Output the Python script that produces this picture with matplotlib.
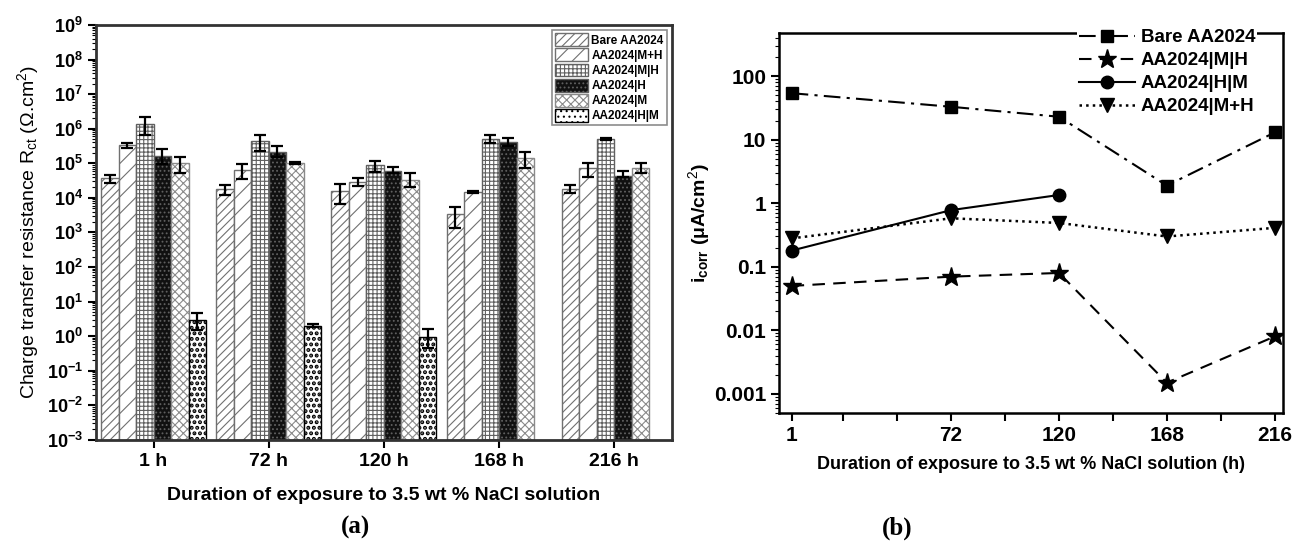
import matplotlib
matplotlib.use('Agg')
import matplotlib.pyplot as plt
from matplotlib.ticker import LogLocator, FixedLocator, NullFormatter
import numpy as np

plt.rcParams['font.family'] = ['Liberation Sans', 'DejaVu Sans']
plt.rcParams['mathtext.fontset'] = 'custom'
plt.rcParams['mathtext.rm'] = 'Liberation Sans'
plt.rcParams['mathtext.bf'] = 'Liberation Sans:bold'
plt.rcParams['mathtext.it'] = 'Liberation Sans:italic'
plt.rcParams['hatch.linewidth'] = 0.8

# ---- data, panel (a): charge transfer resistance (ohm.cm2)
groups = ['1 h', '72 h', '120 h', '168 h', '216 h']
coatings = ['Bare AA2024', 'AA2024|M+H', 'AA2024|M|H', 'AA2024|H', 'AA2024|M', 'AA2024|H|M']

rct_bare = [3.8e4, 1.8e4, 1.6e4, 3.4e3, 1.8e4]
rct_mph = [3.4e5, 6.4e4, 2.9e4, 1.5e4, 7.4e4]
rct_mh = [1.4e6, 4.4e5, 8.9e4, 5.0e5, 5.0e5]
rct_h = [1.6e5, 2.1e5, 6.0e4, 4.2e5, 4.4e4]
rct_m = [1.0e5, 1.0e5, 3.3e4, 1.45e5, 7.4e4]
rct_hm = [3.0, 2.0, 0.95, np.nan, np.nan]

# error bar limits (upper / lower)
hi_bare = [4.6e4, 2.4e4, 2.5e4, 5.5e3, 2.4e4]
lo_bare = [2.7e4, 1.2e4, 6.7e3, 1.3e3, 1.4e4]
hi_mph = [3.9e5, 9.6e4, 3.8e4, 1.6e4, 1.0e5]
lo_mph = [2.8e5, 3.5e4, 2.2e4, 1.4e4, 4.1e4]
hi_mh = [2.2e6, 6.6e5, 1.17e5, 6.6e5, 5.4e5]
lo_mh = [6.6e5, 2.3e5, 5.6e4, 3.9e5, 4.7e5]
hi_h = [2.6e5, 3.2e5, 7.9e4, 5.4e5, 6.0e4]
lo_h = [9.6e4, 1.5e5, 5.3e4, 3.2e5, 4.1e4]
hi_m = [1.5e5, 1.1e5, 5.3e4, 2.1e5, 1.0e5]
lo_m = [5.3e4, 9.3e4, 2.1e4, 7.4e4, 5.3e4]
hi_hm = [4.8, 2.2, 1.6, np.nan, np.nan]
lo_hm = [1.5, 1.8, 0.44, np.nan, np.nan]

# ---- data, panel (b): corrosion current density (uA/cm2)
hours = [1, 72, 120, 168, 216]
hours_hm = [1, 72, 120]
icorr_bare = [54, 33, 23, 1.9, 13]
icorr_mh = [0.05, 0.07, 0.08, 0.0015, 0.008]
icorr_hm = [0.18, 0.78, 1.35]
icorr_mph = [0.28, 0.58, 0.49, 0.30, 0.41]

fig = plt.figure(figsize=(12.97, 5.43), dpi=100)
ax1 = fig.add_axes([0.074, 0.190, 0.444, 0.764])
ax2 = fig.add_axes([0.601, 0.2394, 0.388, 0.700])

# ---------------- panel (a)
vals = [rct_bare, rct_mph, rct_mh, rct_h, rct_m, rct_hm]
his = [hi_bare, hi_mph, hi_mh, hi_h, hi_m, hi_hm]
los = [lo_bare, lo_mph, lo_mh, lo_h, lo_m, lo_hm]
hatches = ['////', '//', '++++', '....', 'xxxx', '...']
faces = ['white', 'white', 'white', '#111111', 'white', 'white']
edges = ['#707070', '#707070', '#606060', '#606060', '#8a8a8a', '#000000']
hatch_lw = [0.8, 0.8, 0.8, 0.8, 0.8, 2.0]

x = np.arange(len(groups))
w = 0.152
bottom = 1e-3
for i in range(6):
    v = np.array(vals[i])
    pos = x + (i - 2.5) * w
    with plt.rc_context({'hatch.linewidth': hatch_lw[i]}):
        bars = ax1.bar(pos, v - bottom, w, bottom=bottom, color=faces[i], edgecolor=edges[i],
                       hatch=hatches[i], linewidth=1.0, label=coatings[i], zorder=2)
    for b in bars:
        if hasattr(b, 'set_hatch_linewidth'):
            b.set_hatch_linewidth(hatch_lw[i])
    yerr = np.array([v - np.array(los[i]), np.array(his[i]) - v])
    ax1.errorbar(pos, v, yerr=yerr, fmt='none', ecolor='black', elinewidth=1.6,
                 capsize=4, capthick=1.6, zorder=3)

ax1.set_yscale('log')
ax1.set_ylim(1e-3, 1e9)
ax1.set_xlim(-0.5, 4.5)
ax1.set_xticks(x)
ax1.set_xticklabels(groups, fontsize=14, fontweight='bold')
ax1.yaxis.set_major_locator(FixedLocator([10.0 ** k for k in range(-3, 10)]))
ax1.set_yticklabels([r'$\mathbf{10^{%d}}$' % k for k in range(-3, 10)], fontsize=13)
ax1.yaxis.set_minor_locator(LogLocator(base=10, subs=np.arange(2, 10), numticks=100))
ax1.yaxis.set_minor_formatter(NullFormatter())
ax1.tick_params(axis='both', which='major', direction='out', length=6, width=1.5)
ax1.tick_params(axis='y', which='minor', direction='out', length=3, width=0.8)
for s in ax1.spines.values():
    s.set_linewidth(2)
    s.set_color('#333333')
ax1.set_ylabel(r'Charge transfer resistance R$_{\mathrm{ct}}$ ($\Omega$.cm$^{2}$)', fontsize=14)
ax1.set_xlabel('Duration of exposure to 3.5 wt % NaCl solution', fontsize=14,
               fontweight='bold', labelpad=12)
leg1 = ax1.legend(loc='upper right', prop={'weight': 'bold', 'size': 8.5},
                  fancybox=False, edgecolor='#707070', handlelength=2.8, handleheight=1.3,
                  labelspacing=0.15, borderpad=0.25, handletextpad=0.3, borderaxespad=0.45)
leg1.get_frame().set_linewidth(1.2)

# ---------------- panel (b)
ax2.plot(hours, icorr_bare, color='black', linestyle='-.', marker='s', markersize=9,
         linewidth=1.5, label='Bare AA2024', dashes=(8, 3, 1.5, 3))
ax2.plot(hours, icorr_mh, color='black', linestyle='--', marker='*', markersize=14,
         linewidth=1.5, label='AA2024|M|H', dashes=(6, 4))
ax2.plot(hours_hm, icorr_hm, color='black', linestyle='-', marker='o', markersize=9,
         linewidth=1.5, label='AA2024|H|M')
ax2.plot(hours, icorr_mph, color='black', linestyle=':', marker='v', markersize=10,
         linewidth=1.8, label='AA2024|M+H')

ax2.set_yscale('log')
ax2.set_ylim(5.0e-4, 480)
ax2.set_xlim(-4.4, 219.6)
ax2.set_xticks(hours)
ax2.set_xticklabels([str(h) for h in hours], fontsize=15, fontweight='bold')
ax2.set_xticks([24, 48, 96, 144, 192], minor=True)
ax2.yaxis.set_major_locator(FixedLocator([0.001, 0.01, 0.1, 1, 10, 100]))
ax2.set_yticklabels(['0.001', '0.01', '0.1', '1', '10', '100'], fontsize=15, fontweight='bold')
ax2.yaxis.set_minor_locator(LogLocator(base=10, subs=np.arange(2, 10), numticks=100))
ax2.yaxis.set_minor_formatter(NullFormatter())
ax2.tick_params(axis='both', which='major', direction='out', length=6, width=1.5)
ax2.tick_params(axis='x', which='minor', direction='out', length=6, width=1.5)
ax2.tick_params(axis='y', which='minor', direction='out', length=3, width=0.8)
for s in ax2.spines.values():
    s.set_linewidth(1.8)
ax2.set_ylabel(r'$\mathbf{i}_{\mathbf{corr}}$ ($\mathbf{\mu}$A/cm$^{2}$)', fontsize=14,
               fontweight='bold')
ax2.yaxis.set_label_coords(-0.135, 0.5)
ax2.set_xlabel('Duration of exposure to 3.5 wt % NaCl solution (h)', fontsize=13,
               fontweight='bold', labelpad=8)
leg2 = ax2.legend(loc='upper right', bbox_to_anchor=(0.968, 1.04),
                  prop={'weight': 'bold', 'size': 13.5}, frameon=True, fancybox=False,
                  edgecolor='none', facecolor='white', framealpha=1, handlelength=3.0,
                  labelspacing=0.32, borderpad=0.1, handletextpad=0.3)

fig.text(0.274, 0.028, '(a)', fontsize=18, fontweight='bold', family='Liberation Serif',
         ha='center', va='center')
fig.text(0.692, 0.028, '(b)', fontsize=18, fontweight='bold', family='Liberation Serif',
         ha='center', va='center')

fig.savefig('out.png', dpi=100)
